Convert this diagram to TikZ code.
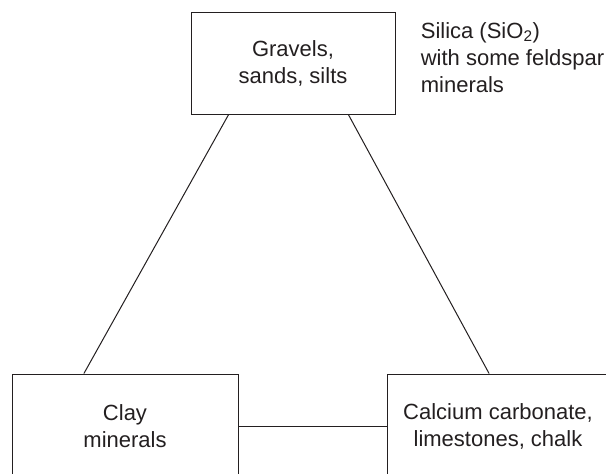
\documentclass[tikz,border=0pt]{standalone}
\usepackage{fontspec}
\setmainfont{Liberation Sans}
\usetikzlibrary{calc}
\definecolor{ink}{RGB}{35,31,32}

\begin{document}
\begin{tikzpicture}[x=1pt,y=-1pt,line width=1pt,
  every node/.style={font=\fontsize{22}{27}\selectfont,text=ink},
  box/.style={draw=ink,line width=1pt,align=center,inner sep=0pt}]
\useasboundingbox (0,0) rectangle (606,474);
\clip (0,0) rectangle (606,474);
\node[box,minimum width=204pt,minimum height=102pt] (gravels) at (293,63) {Gravels,\\sands, silts};
\node[box,minimum width=226pt,minimum height=105pt] (clay) at (125,426.5) {Clay\\minerals};
\node[box,minimum width=222pt,minimum height=105pt] (calcium) at (498,426.5) {Calcium carbonate,\\limestones, chalk};
\node[anchor=base west,align=left] (silica) at (417,92) {Silica (SiO\textsubscript{2})\\with some feldspar\\minerals};
\draw[ink] ($(gravels.south west)!0.186!(gravels.south east)$) -- ($(clay.north west)!0.319!(clay.north east)$);
\draw[ink] ($(gravels.south west)!0.77!(gravels.south east)$) -- ($(calcium.north west)!0.46!(calcium.north east)$);
\draw[ink] (clay.east) -- (calcium.west);
\end{tikzpicture}
\end{document}
